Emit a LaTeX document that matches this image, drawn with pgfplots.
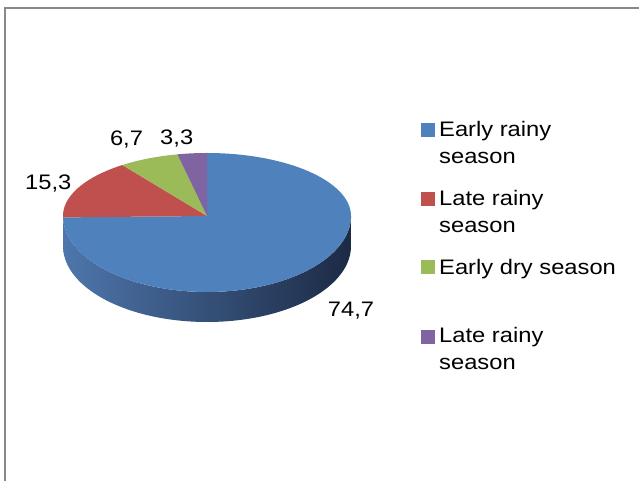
\documentclass[border=0pt]{standalone}
\usepackage{fontspec}
\setmainfont{Liberation Sans}[FakeStretch=1.13]
\usepackage{pgfplots}
\pgfplotsset{compat=1.18}
\definecolor{pieblue}{RGB}{79,129,189}
\definecolor{piered}{RGB}{192,80,77}
\definecolor{piegreen}{RGB}{155,187,89}
\definecolor{piepurple}{RGB}{128,100,162}
\definecolor{sideL}{RGB}{78,118,172}
\definecolor{sideM}{RGB}{52,82,125}
\definecolor{sideR}{RGB}{28,42,68}
\definecolor{framegray}{RGB}{136,136,136}
% data (percent)
\def\vA{74.7}\def\vB{15.3}\def\vC{6.7}\def\vD{3.3}
\pgfmathsetmacro\aA{90}
\pgfmathsetmacro\aB{\aA-3.6*\vA}
\pgfmathsetmacro\aC{\aB-3.6*\vB}
\pgfmathsetmacro\aD{\aC-3.6*\vC}
\pgfmathsetmacro\aE{\aD-3.6*\vD}
\tikzset{lbl/.style={font=\fontsize{21}{25}\selectfont, inner sep=0pt}}
\begin{document}
\begin{tikzpicture}
\begin{axis}[
  x=1pt, y=1pt,
  xmin=0, xmax=639, ymin=0, ymax=481,
  hide axis, clip=false,
]
% frame
\addplot[framegray, line width=1.5pt, mark=none] coordinates {(5,-2) (5,473) (641,473)};
% side of the pie (front)
\addplot[draw=none, left color=sideL, middle color=sideM, right color=sideR,
  domain=180:540, samples=181]
  ({207+144*cos(x)}, {x<=360 ? 265+76*sin(x) : 265-76*sin(x)-30});
% top slices
\addplot[fill=pieblue, draw=none, domain=\aB:\aA, samples=120]
  ({207+144*cos(x)}, {265+(sin(x)>0 ? 63 : 76)*sin(x)}) -- (axis cs:207,265) -- cycle;
\addplot[fill=piered, draw=none, domain=\aC:\aB, samples=40]
  ({207+144*cos(x)}, {265+(sin(x)>0 ? 63 : 76)*sin(x)}) -- (axis cs:207,265) -- cycle;
\addplot[fill=piegreen, draw=none, domain=\aD:\aC, samples=20]
  ({207+144*cos(x)}, {265+(sin(x)>0 ? 63 : 76)*sin(x)}) -- (axis cs:207,265) -- cycle;
\addplot[fill=piepurple, draw=none, domain=\aE:\aD, samples=12]
  ({207+144*cos(x)}, {265+(sin(x)>0 ? 63 : 76)*sin(x)}) -- (axis cs:207,265) -- cycle;
% data labels
\node[lbl, anchor=base] at (axis cs:351,164.3) {74,7};
\node[lbl, anchor=base] at (axis cs:48.3,291) {15,3};
\node[lbl, anchor=base] at (axis cs:126.5,335) {6,7};
\node[lbl, anchor=base] at (axis cs:176.7,336) {3,3};
% legend
\addplot[only marks, mark=square*, mark size=6.5pt, pieblue] coordinates {(427.3,351.7)};
\addplot[only marks, mark=square*, mark size=6.5pt, piered] coordinates {(427.3,282.3)};
\addplot[only marks, mark=square*, mark size=6.5pt, piegreen] coordinates {(427.3,214.3)};
\addplot[only marks, mark=square*, mark size=6.5pt, piepurple] coordinates {(427.3,144.3)};
\node[lbl, anchor=base west] at (axis cs:439,344.3) {Early rainy};
\node[lbl, anchor=base west] at (axis cs:439,317.7) {season};
\node[lbl, anchor=base west] at (axis cs:439,275) {Late rainy};
\node[lbl, anchor=base west] at (axis cs:439,248.3) {season};
\node[lbl, anchor=base west] at (axis cs:439,206) {Early dry season};
\node[lbl, anchor=base west] at (axis cs:439,138.3) {Late rainy};
\node[lbl, anchor=base west] at (axis cs:439,111) {season};
\end{axis}
\pgfresetboundingbox
\useasboundingbox (current axis.south west) rectangle (current axis.north east);
\end{tikzpicture}
\end{document}
